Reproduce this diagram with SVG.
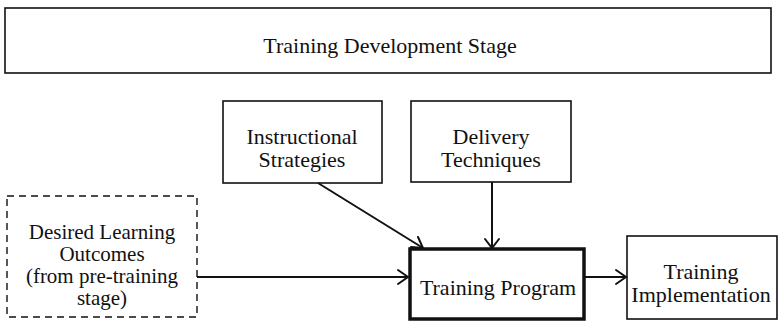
<svg xmlns="http://www.w3.org/2000/svg" width="778" height="321" viewBox="0 0 778 321">
<style>
text{font-family:"Liberation Serif","Times New Roman",serif;font-size:22px;fill:#111;text-anchor:middle}
.sm{font-size:21px}
.box{fill:#fff;stroke:#111;stroke-width:1.6}
.dash{fill:#fff;stroke:#111;stroke-width:1.4;stroke-dasharray:7 5}
.thick{fill:#fff;stroke:#111;stroke-width:3.5}
.ln{fill:none;stroke:#111;stroke-width:2}
.ah{fill:none;stroke:#111;stroke-width:2;stroke-linecap:round;stroke-linejoin:miter}
</style>
<rect width="778" height="321" fill="#fff"/>
<g id="stage"><rect class="box" x="5" y="8" width="766" height="65"/><text x="390" y="53">Training Development Stage</text></g>
<g id="instr"><rect class="box" x="223" y="101" width="159" height="82"/><text x="302" y="144">Instructional</text><text x="302" y="167">Strategies</text></g>
<g id="deliv"><rect class="box" x="411" y="101" width="160" height="81"/><text x="491" y="144">Delivery</text><text x="491" y="167">Techniques</text></g>
<g id="desired"><rect class="dash" x="7" y="196" width="190" height="121"/><text class="sm" x="102" y="239">Desired Learning</text><text class="sm" x="102" y="261">Outcomes</text><text class="sm" x="102" y="283">(from pre-training</text><text class="sm" x="102" y="305">stage)</text></g>
<g id="program"><rect class="thick" x="410" y="249" width="174" height="70"/><text x="498" y="295">Training Program</text></g>
<g id="impl"><rect class="box" x="627" y="236" width="150" height="83"/><text x="701" y="279">Training</text><text x="701" y="302">Implementation</text></g>
<g id="connectors">
<line class="ln" x1="197" y1="277" x2="408" y2="277"/><polyline class="ah" points="398,270 408,277 398,284"/>
<line class="ln" x1="318" y1="183" x2="423" y2="248" stroke-width="2.6"/><polyline class="ah" points="411,247 423,248 418,237"/>
<line class="ln" x1="492" y1="182" x2="492" y2="248" stroke-width="1.6"/><polyline class="ah" points="485,239 492,248 499,239"/>
<line class="ln" x1="584" y1="277" x2="626" y2="277"/><polyline class="ah" points="616,270 626,277 616,284"/>
</g>
</svg>
